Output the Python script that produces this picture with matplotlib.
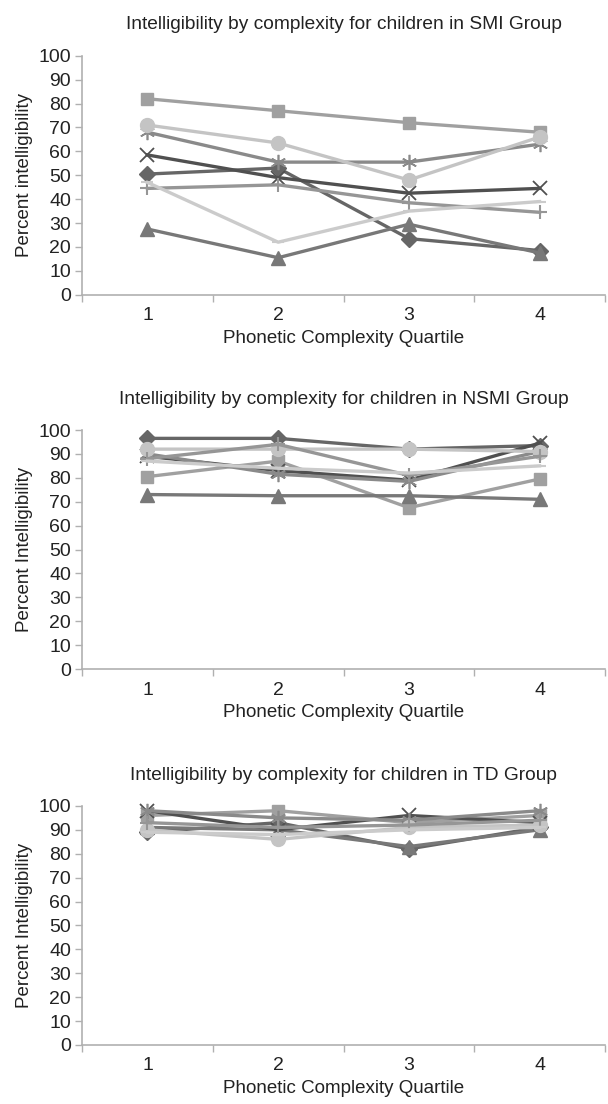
import matplotlib.pyplot as plt
import numpy as np

plt.rcParams['font.family'] = ['Liberation Sans Narrow', 'Liberation Sans', 'DejaVu Sans']

quartiles = [1, 2, 3, 4]
quartile_labels = ['1', '2', '3', '4']

# SMI group (one list per child)
smi_diamond = [50.5, 53, 23.5, 18.5]
smi_square = [82, 77, 72, 68]
smi_triangle = [27.5, 15.5, 29.5, 17.5]
smi_x = [58.5, 49, 42.5, 44.5]
smi_asterisk = [68, 55.5, 55.5, 63]
smi_circle = [71, 63.5, 48, 66]
smi_plus = [44.5, 46, 38.5, 34.5]
smi_dash = [47, 22, 35, 39]

# NSMI group
nsmi_diamond = [96.5, 96.5, 92, 93.5]
nsmi_square = [80.5, 87, 67.5, 79.5]
nsmi_triangle = [73, 72.5, 72.5, 71]
nsmi_x = [89, 83, 79, 94.5]
nsmi_asterisk = [90, 81.5, 78.5, 91]
nsmi_circle = [92, 92, 92, 91]
nsmi_plus = [88, 94, 81, 89]
nsmi_dash = [87, 84, 82, 85]

# TD group
td_diamond = [89, 93, 82, 91]
td_square = [96, 98, 93, 96]
td_triangle = [91, 90, 83, 90]
td_x = [98, 90, 96, 93]
td_asterisk = [98, 95, 94, 98]
td_circle = [90, 86, 91, 92]
td_plus = [93, 91, 92, 94]
td_dash = [89, 88, 90, 91]

titles = ['Intelligibility by complexity for children in SMI Group',
          'Intelligibility by complexity for children in NSMI Group',
          'Intelligibility by complexity for children in TD Group']
ylabels = ['Percent intelligibility', 'Percent Intelligibility', 'Percent Intelligibility']

groups = [
    [smi_diamond, smi_square, smi_triangle, smi_x, smi_asterisk, smi_circle, smi_plus, smi_dash],
    [nsmi_diamond, nsmi_square, nsmi_triangle, nsmi_x, nsmi_asterisk, nsmi_circle, nsmi_plus, nsmi_dash],
    [td_diamond, td_square, td_triangle, td_x, td_asterisk, td_circle, td_plus, td_dash],
]

# excel-ish grayscale series styles
styles = [
    dict(color='#666666', marker='D', ms=8),
    dict(color='#a0a0a0', marker='s', ms=9),
    dict(color='#787878', marker='^', ms=10),
    dict(color='#505050', marker='x', ms=10, mew=1.3),
    dict(color='#8a8a8a', marker=(6, 2, 0), ms=11, mew=1.2),
    dict(color='#c4c4c4', marker='o', ms=10),
    dict(color='#969696', marker='+', ms=10, mew=1.5),
    dict(color='#cbcbcb', marker='_', ms=8, mew=1.5),
]

fig = plt.figure(figsize=(6.08, 11.04), dpi=100)
axes_rects = [[0.135, 0.733, 0.86, 0.2165],
              [0.135, 0.394, 0.86, 0.2165],
              [0.135, 0.0535, 0.86, 0.2165]]

for rect, series, title, ylab in zip(axes_rects, groups, titles, ylabels):
    ax = fig.add_axes(rect)
    for vals, st in zip(series, styles):
        ax.plot(quartiles, vals, lw=2.4, color=st['color'], marker=st['marker'],
                markersize=st['ms'], markeredgewidth=st.get('mew', 1.0),
                markerfacecolor=st['color'], markeredgecolor=st['color'],
                zorder=3, clip_on=False)
    ax.set_xlim(0.5, 4.5)
    ax.set_ylim(0, 100)
    ax.set_yticks(np.arange(0, 101, 10))
    ax.set_xticks([0.5, 1.5, 2.5, 3.5, 4.5])
    ax.set_xticklabels([])
    ax.set_xticks(quartiles, minor=True)
    ax.set_xticklabels(quartile_labels, minor=True)
    ax.tick_params(axis='x', which='minor', length=0, labelsize=14, pad=9, colors='#222222')
    ax.tick_params(axis='x', which='major', length=5, width=1, color='#b0b0b0', direction='out')
    ax.tick_params(axis='y', length=5, width=1, color='#b0b0b0', direction='out',
                   labelsize=14, pad=3, labelcolor='#222222')
    for s in ['top', 'right']:
        ax.spines[s].set_visible(False)
    for s in ['left', 'bottom']:
        ax.spines[s].set_color('#b0b0b0')
        ax.spines[s].set_linewidth(1.2)
    ax.set_title(title, fontsize=13.8, color='#222222', pad=19)
    ax.set_xlabel('Phonetic Complexity Quartile', fontsize=13.5, color='#222222', labelpad=4)
    ax.set_ylabel(ylab, fontsize=13.5, color='#222222', labelpad=4)

fig.savefig('out.png', dpi=100)
